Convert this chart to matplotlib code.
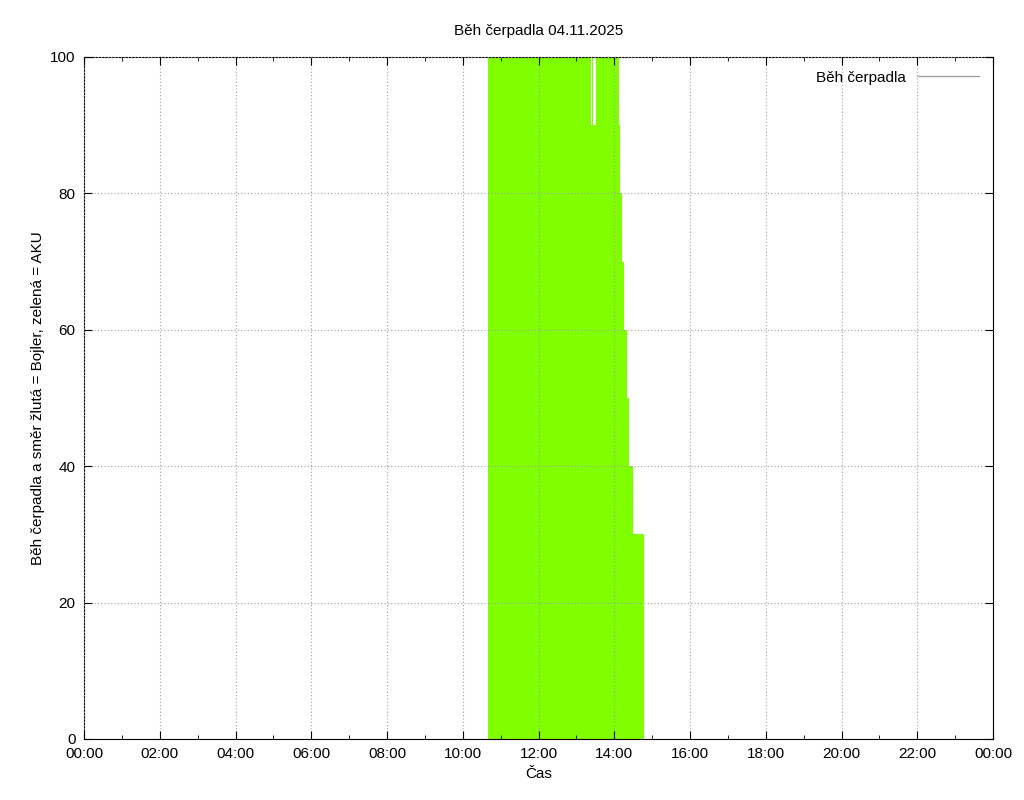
import numpy as np
import matplotlib.pyplot as plt

plt.rcParams['font.family'] = ['Liberation Sans', 'DejaVu Sans']

# step edges (hours) and pump values
edges = [10.667, 13.376, 13.402, 13.429, 13.518, 14.125, 14.152, 14.205,
         14.257, 14.337, 14.389, 14.495, 14.786]
values = [100, 90, 100, 90, 100, 90, 80, 70, 60, 50, 40, 30]
xlabels = ['00:00', '02:00', '04:00', '06:00', '08:00', '10:00', '12:00',
           '14:00', '16:00', '18:00', '20:00', '22:00', '00:00']

fig = plt.figure(figsize=(10.24, 8), dpi=100)
ax = fig.add_axes([84/1024, 61/800, 909/1024, 682/800])

x = np.array(edges)
y = np.array(values + [values[-1]])
ax.fill_between(x, 0, y, step='post', color='#7fff00', linewidth=0)
ax.plot([], [], color='#a0a0a0', linewidth=1, label='Běh čerpadla')

ax.set_xlim(0, 24)
ax.set_ylim(0, 100)
ax.set_xticks(np.arange(0, 25, 2))
ax.set_xticklabels(xlabels)
ax.set_xticks(np.arange(0, 25, 1), minor=True)
ax.set_yticks(np.arange(0, 101, 20))
ax.tick_params(which='both', direction='in', top=True, right=True, labelsize=11, pad=6)
ax.tick_params(which='major', length=6)
ax.tick_params(which='minor', length=3)
ax.grid(True, which='major', linestyle=(0, (1, 2)), color='#a0a0a0', linewidth=0.8)
ax.set_axisbelow(False)

ax.set_xlabel('Čas', fontsize=11)
ax.set_ylabel('Běh čerpadla a směr žlutá = Bojler, zelená = AKU', fontsize=11)
ax.set_title('Běh čerpadla 04.11.2025', fontsize=11, pad=16)
leg = ax.legend(loc='upper right', frameon=False, markerfirst=False, fontsize=11,
                handlelength=4)

fig.savefig('out.png', dpi=100)
